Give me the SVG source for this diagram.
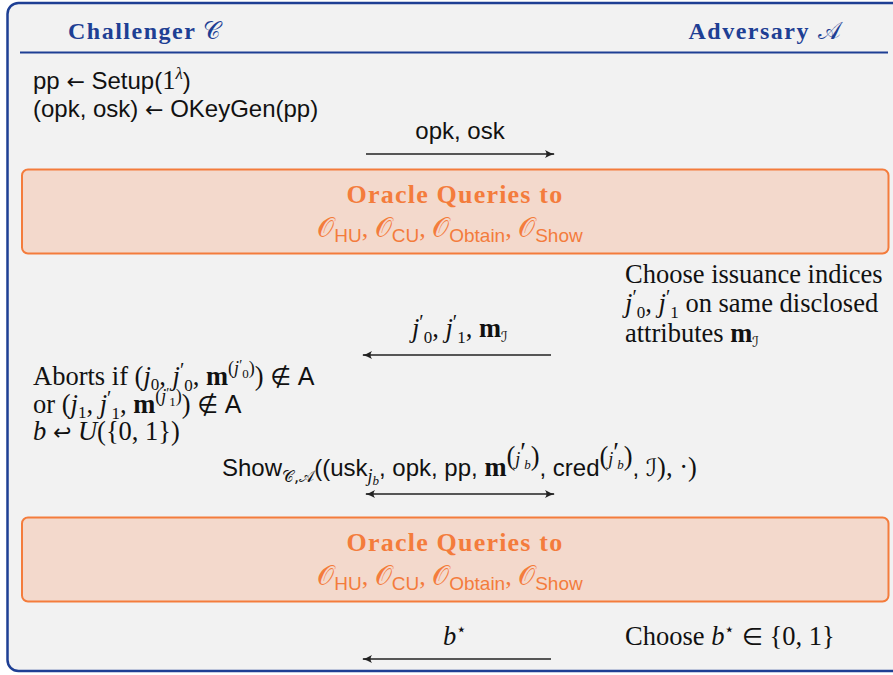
<svg xmlns="http://www.w3.org/2000/svg" width="893" height="675" viewBox="0 0 893 675">
<style>
.serif{font-family:"Liberation Serif","DejaVu Serif",serif;font-size:26.5px;fill:#111}
.sans{font-family:"Liberation Sans","DejaVu Sans",sans-serif;font-size:24px;fill:#111}
.it{font-style:italic;font-family:"Liberation Serif","DejaVu Serif",serif}
.b{font-weight:bold;font-family:"Liberation Serif","DejaVu Serif",serif}
.sf{font-family:"Liberation Sans","DejaVu Sans",sans-serif;font-style:normal;font-weight:normal}
.sym{font-family:"DejaVu Sans",sans-serif;font-style:normal;font-weight:normal}
.hdr{font-family:"Liberation Serif","DejaVu Serif",serif;font-size:24px;font-weight:bold;fill:#1e3f94;letter-spacing:1.5px}
.orng{font-family:"Liberation Serif","DejaVu Serif",serif;font-size:26px;fill:#f47c3c}
.cal{font-family:"DejaVu Sans","Noto Sans",serif;font-style:normal;font-weight:normal}
.arrow{stroke:#222;stroke-width:1.3;fill:none}
.obox{fill:#f3d9cc;stroke:#f47c3c;stroke-width:2}
</style>
<defs>
<marker id="ah" viewBox="0 0 10 10" refX="9" refY="5" markerWidth="10" markerHeight="10" markerUnits="userSpaceOnUse" orient="auto-start-reverse">
<path d="M0,1 Q5,4.2 10,5 Q5,5.8 0,9 Q3,5 0,1 Z" fill="#222"/>
</marker>
</defs>
<g id="frame">
<rect x="7.5" y="3" width="900" height="668" rx="11" fill="#f2f2f2" stroke="#1e3f94" stroke-width="2.5"/>
<line x1="20" y1="52.5" x2="888" y2="52.5" stroke="#1e3f94" stroke-width="2.2"/>
</g>
<g id="header-challenger"><text x="68" y="39" class="hdr">Challenger <tspan class="cal" font-style="italic">𝒞</tspan></text></g>
<g id="header-adversary"><text x="842" y="39" class="hdr" text-anchor="end">Adversary <tspan class="cal" font-style="italic">𝒜</tspan></text></g>

<g id="setup">
<text x="33" y="89" class="sans">pp <tspan class="sym" font-size="22">←</tspan> Setup(<tspan class="serif">1</tspan><tspan class="it" font-size="17" dy="-10">λ</tspan><tspan dy="10">)</tspan></text>
<text x="33" y="117" class="sans">(opk, osk) <tspan class="sym" font-size="22">←</tspan> OKeyGen(pp)</text>
</g>

<g id="oracle1">
<rect x="22" y="169.5" width="866.5" height="84" rx="6" class="obox"/>
<text x="455" y="203" class="orng" text-anchor="middle" font-weight="bold" letter-spacing="1.2">Oracle Queries to</text>
<text x="450" y="237" class="orng" text-anchor="middle"><tspan class="cal" font-size="27">𝒪</tspan><tspan class="sf" font-size="19" dy="5">HU</tspan><tspan dy="-5">, </tspan><tspan class="cal" font-size="27">𝒪</tspan><tspan class="sf" font-size="19" dy="5">CU</tspan><tspan dy="-5">, </tspan><tspan class="cal" font-size="27">𝒪</tspan><tspan class="sf" font-size="19" dy="5">Obtain</tspan><tspan dy="-5">, </tspan><tspan class="cal" font-size="27">𝒪</tspan><tspan class="sf" font-size="19" dy="5">Show</tspan></text>
</g>

<g id="choose-indices">
<text x="625" y="283" class="serif">Choose issuance indices</text>
<text x="625" y="312" class="serif"><tspan class="it">j</tspan><tspan font-size="20" dy="-8">′</tspan><tspan font-size="17" dy="14">0</tspan><tspan dy="-6">, </tspan><tspan class="it">j</tspan><tspan font-size="20" dy="-8">′</tspan><tspan font-size="17" dy="14">1</tspan><tspan dy="-6"> on same disclosed</tspan></text>
<text x="625" y="342" class="serif">attributes <tspan class="b">m</tspan><tspan class="cal" font-size="15" dy="5">ℐ</tspan></text>
</g>

<g id="aborts">
<text x="33" y="385" class="serif">Aborts if (<tspan class="it">j</tspan><tspan font-size="17" dy="5">0</tspan><tspan dy="-5">, </tspan><tspan class="it">j</tspan><tspan font-size="20" dy="-8">′</tspan><tspan font-size="17" dy="14">0</tspan><tspan dy="-6">, </tspan><tspan class="b">m</tspan><tspan font-size="18" dy="-11">(</tspan><tspan class="it" font-size="18">j</tspan><tspan font-size="14" dy="-4">′</tspan><tspan font-size="13" dy="8">0</tspan><tspan font-size="18" dy="-4">)</tspan><tspan dy="11">) </tspan><tspan class="sym" font-size="24">∉</tspan> <tspan class="sf" font-size="25">A</tspan></text>
<text x="33" y="413" class="serif">or (<tspan class="it">j</tspan><tspan font-size="17" dy="5">1</tspan><tspan dy="-5">, </tspan><tspan class="it">j</tspan><tspan font-size="20" dy="-8">′</tspan><tspan font-size="17" dy="14">1</tspan><tspan dy="-6">, </tspan><tspan class="b">m</tspan><tspan font-size="18" dy="-11">(</tspan><tspan class="it" font-size="18">j</tspan><tspan font-size="14" dy="-4">′</tspan><tspan font-size="13" dy="8">1</tspan><tspan font-size="18" dy="-4">)</tspan><tspan dy="11">) </tspan><tspan class="sym" font-size="24">∉</tspan> <tspan class="sf" font-size="25">A</tspan></text>
<text x="33" y="440" class="serif"><tspan class="it">b</tspan> <tspan class="sym" font-size="22">↩</tspan> <tspan class="it">U</tspan>({0, 1})</text>
</g>

<g id="show">
<text x="222" y="476" class="sans">Show<tspan class="cal" font-style="italic" font-size="16" dy="6">𝒞,𝒜</tspan><tspan dy="-6">((usk</tspan><tspan class="it" font-size="18" dy="6">j</tspan><tspan class="it" font-size="13" dy="3">b</tspan><tspan dy="-9">, opk, pp, </tspan><tspan class="b" font-size="26.5">m</tspan><tspan class="serif" font-size="18" dy="-11">(</tspan><tspan class="it" font-size="18">j</tspan><tspan class="serif" font-size="14" dy="-4">′</tspan><tspan class="it" font-size="13" dx="-2" dy="8">b</tspan><tspan class="serif" font-size="18" dy="-4">)</tspan><tspan dy="11">, cred</tspan><tspan class="serif" font-size="18" dy="-11">(</tspan><tspan class="it" font-size="18">j</tspan><tspan class="serif" font-size="14" dy="-4">′</tspan><tspan class="it" font-size="13" dx="-2" dy="8">b</tspan><tspan class="serif" font-size="18" dy="-4">)</tspan><tspan dy="11">, </tspan><tspan class="cal" font-size="24">ℐ</tspan><tspan class="serif" font-size="26.5">), ·)</tspan></text>
</g>

<g id="oracle2">
<rect x="22" y="517.5" width="866.5" height="84" rx="6" class="obox"/>
<text x="455" y="551" class="orng" text-anchor="middle" font-weight="bold" letter-spacing="1.2">Oracle Queries to</text>
<text x="450" y="585" class="orng" text-anchor="middle"><tspan class="cal" font-size="27">𝒪</tspan><tspan class="sf" font-size="19" dy="5">HU</tspan><tspan dy="-5">, </tspan><tspan class="cal" font-size="27">𝒪</tspan><tspan class="sf" font-size="19" dy="5">CU</tspan><tspan dy="-5">, </tspan><tspan class="cal" font-size="27">𝒪</tspan><tspan class="sf" font-size="19" dy="5">Obtain</tspan><tspan dy="-5">, </tspan><tspan class="cal" font-size="27">𝒪</tspan><tspan class="sf" font-size="19" dy="5">Show</tspan></text>
</g>

<g id="choose-b">
<text x="625" y="645" class="serif">Choose <tspan class="it">b</tspan><tspan font-size="17" dy="-10">⋆</tspan><tspan dy="10"> </tspan><tspan class="sym" font-size="24">∈</tspan> {0, 1}</text>
</g>

<g id="connectors">
<line x1="366" y1="154" x2="554" y2="154" class="arrow" marker-end="url(#ah)"/>
<text x="460" y="139" class="sans" text-anchor="middle">opk, osk</text>
<line x1="551" y1="355" x2="363" y2="355" class="arrow" marker-end="url(#ah)"/>
<text x="460" y="337" class="serif" text-anchor="middle"><tspan class="it">j</tspan><tspan font-size="20" dy="-8">′</tspan><tspan font-size="17" dy="14">0</tspan><tspan dy="-6">, </tspan><tspan class="it">j</tspan><tspan font-size="20" dy="-8">′</tspan><tspan font-size="17" dy="14">1</tspan><tspan dy="-6">, </tspan><tspan class="b">m</tspan><tspan class="cal" font-size="15" dy="5">ℐ</tspan></text>
<line x1="366" y1="494" x2="554" y2="494" class="arrow" marker-start="url(#ah)" marker-end="url(#ah)"/>
<line x1="551" y1="659" x2="363" y2="659" class="arrow" marker-end="url(#ah)"/>
<text x="455" y="645" class="serif" text-anchor="middle"><tspan class="it">b</tspan><tspan font-size="17" dy="-10">⋆</tspan></text>
</g>
</svg>
